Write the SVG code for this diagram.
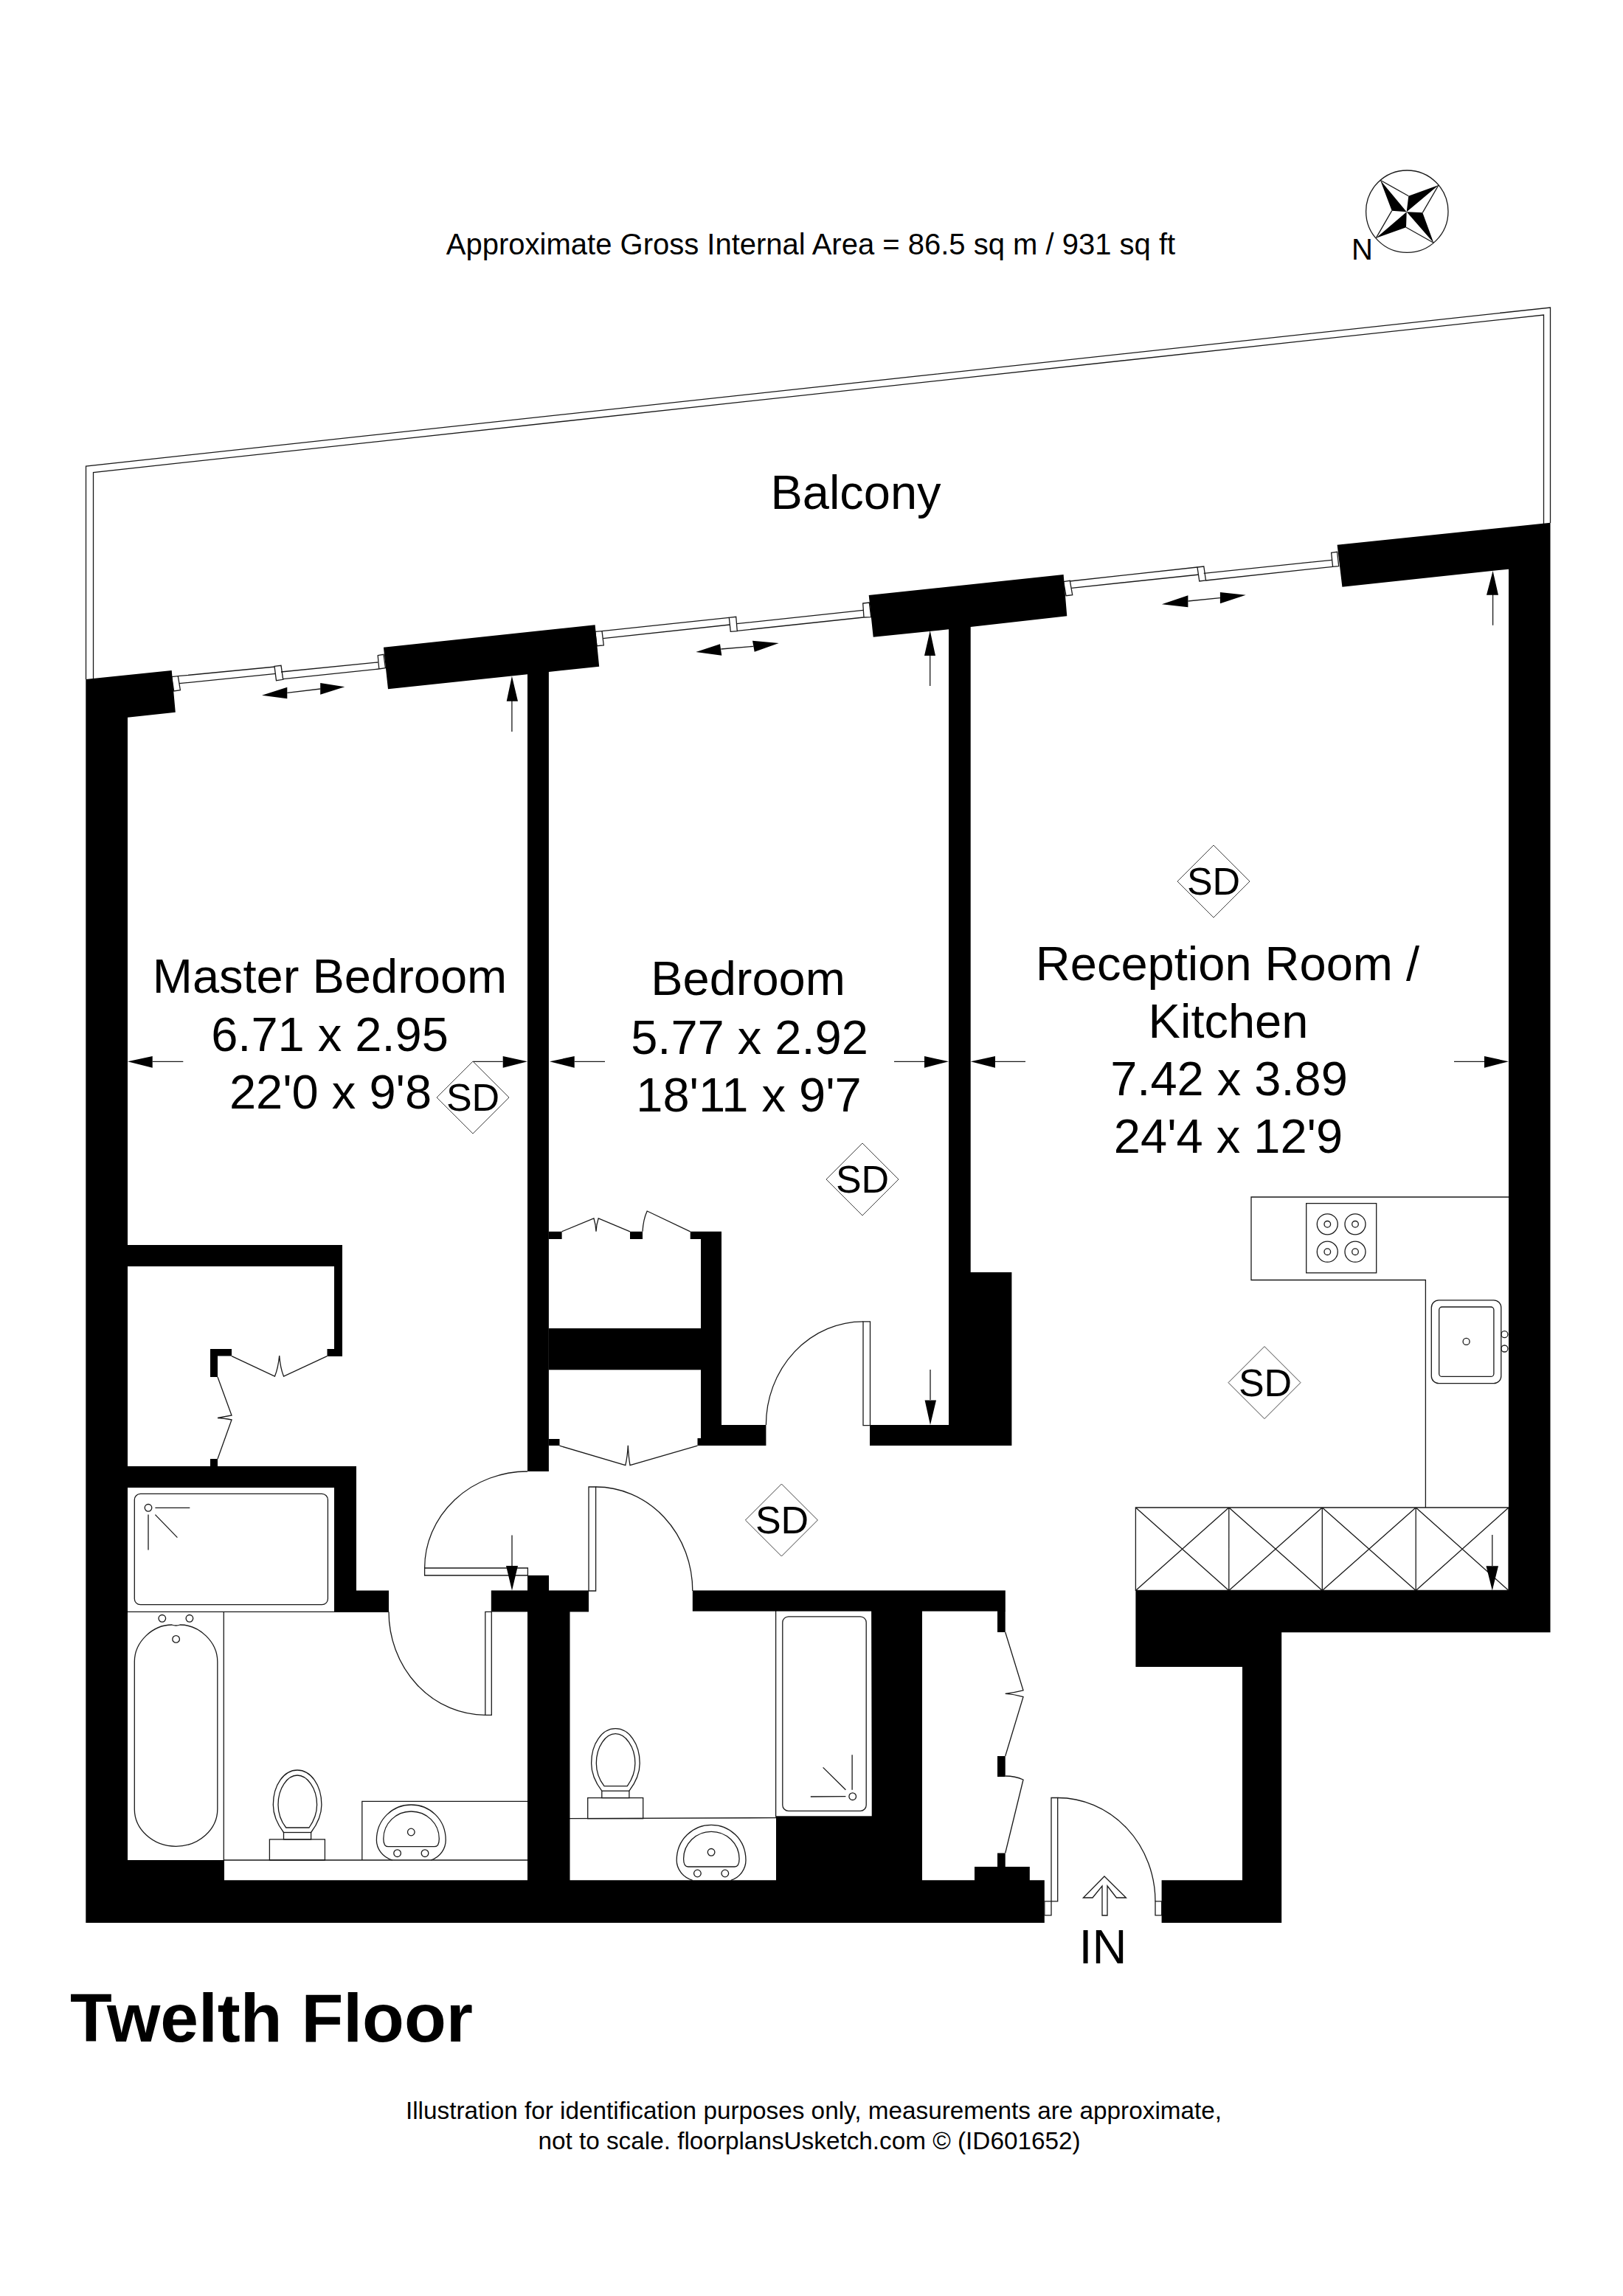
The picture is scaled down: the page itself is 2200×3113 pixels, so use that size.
<svg xmlns="http://www.w3.org/2000/svg" width="2200" height="3113" viewBox="0 0 2200 3113">
<style>
text{font-family:"Liberation Sans",Arial,sans-serif;fill:#000}
.room{font-size:65px;text-anchor:middle}
.sd{font-size:52px;text-anchor:middle}
.note{font-size:33.3px;text-anchor:middle}
.w{fill:#000;stroke:none}
.l{fill:none;stroke:#1a1a1a;stroke-width:1.3}
.f{fill:#fff;stroke:#1a1a1a;stroke-width:1.3}
.thin{fill:#fff;stroke:#444;stroke-width:1}
.a{fill:#000;stroke:none}
</style>
<defs>
<g id="wc">
<rect class="l" x="365.4" y="2493.9" width="75" height="28.1"/>
<rect class="l" x="384.5" y="2484.5" width="37.1" height="9.4"/>
<path class="l" d="M384.5,2484.5C375,2472 370.3,2458 370.3,2447C370.3,2420 385,2400 403,2400C421,2400 435.9,2420 435.9,2447C435.9,2458 431,2472 421.6,2484.5"/>
<path class="l" d="M387.7,2478C380,2468 377,2456 377,2447C377,2424 390,2407 403,2407C416,2407 429.6,2424 429.6,2447C429.6,2456 426,2468 419,2478Z"/>
</g>
<g id="basin">
<path class="l" d="M531.9,2522C518,2518 510.4,2506 510.4,2495C510.4,2466 533,2447 557.3,2447C582,2447 604.2,2466 604.2,2495C604.2,2506 597,2518 584,2522"/>
<path class="l" d="M526,2503.7C521,2503.7 519.8,2499 519.8,2493C519.8,2472 537,2456 557.3,2456C578,2456 595.3,2472 595.3,2493C595.3,2499 594,2503.7 589,2503.7Z"/>
<circle class="l" cx="557.3" cy="2484" r="4.8"/>
<circle class="l" cx="538.6" cy="2512.7" r="4.8"/>
<circle class="l" cx="576" cy="2512.7" r="4.8"/>
</g>
<g id="sdm">
<path class="thin" d="M0,-49L49,0L0,49L-49,0Z"/>
</g>
<g id="burner">
<circle class="l" r="14"/><circle class="l" r="4.3"/>
</g>
</defs>

<g id="balcony">
<path class="l" d="M116.5,921V632L2101.5,417V709"/>
<path class="l" d="M126.5,920V640.5L2092.5,427V710"/>
</g>

<g id="fixtures">
<rect class="l" x="182.3" y="2025.4" width="262.1" height="150.3" rx="8" ry="8"/>
<circle class="l" cx="201" cy="2044.3" r="4.8"/>
<path class="l" d="M210.4,2044.3H257.3M201,2053.6V2101.4M210.4,2053.6L240.4,2084.6"/>
<path class="l" d="M173,2185.3H527M303.3,2185.3V2522H715M490.8,2522V2442.4H715"/>
<path class="l" d="M233,2203C207,2203 182.3,2226 182.3,2253V2453C182.3,2480 207,2503.3 238.5,2503.3C270,2503.3 294.8,2480 294.8,2453V2253C294.8,2226 270,2203 244,2203Q238.5,2205 233,2203Z"/>
<circle class="l" cx="238.6" cy="2222.4" r="4.8"/>
<circle class="l" cx="219.8" cy="2194.3" r="4.8"/>
<circle class="l" cx="256.9" cy="2194.3" r="4.8"/>
<use href="#wc"/>
<use href="#basin"/>
<path class="l" d="M1051.6,2183H1181.7L1182.8,2463H1051.6Z"/>
<path class="l" d="M772,2465.7L1052,2464.6"/>
<rect class="l" x="1060.8" y="2191.8" width="113.4" height="263.6" rx="8" ry="8"/>
<circle class="l" cx="1155.7" cy="2435.7" r="4.8"/>
<path class="l" d="M1098.8,2436L1146.4,2435.7M1155.1,2379.3V2426.8M1115.6,2396.4L1146.4,2426.8"/>
<use href="#wc" transform="translate(431.3,-56.3)"/>
<use href="#basin" transform="translate(406.8,27.3)"/>
<path class="l" d="M2045,1623H1696V1735.5H1932.4V2044"/>
<rect class="l" x="1770.7" y="1631.6" width="95" height="94.2"/>
<use href="#burner" x="1799.3" y="1659.8"/>
<use href="#burner" x="1837" y="1659.8"/>
<use href="#burner" x="1799.3" y="1697.2"/>
<use href="#burner" x="1837" y="1697.2"/>
<rect class="l" x="1940.3" y="1762.9" width="94.5" height="112.8" rx="10" ry="10"/>
<rect class="l" x="1950.7" y="1772" width="74.2" height="94.4" rx="4" ry="4"/>
<circle class="l" cx="1987.6" cy="1818.9" r="4.5"/>
<circle class="l" cx="2039.4" cy="1809.2" r="4.5"/>
<circle class="l" cx="2039.4" cy="1828.5" r="4.5"/>
<path class="l" d="M1539.4,2044H2045V2156.4H1539.4ZM1665.8,2044V2156.4M1792.3,2044V2156.4M1919.2,2044V2156.4M1539.4,2044L1665.8,2156.4M1539.4,2156.4L1665.8,2044M1665.8,2044L1792.3,2156.4M1665.8,2156.4L1792.3,2044M1792.3,2044L1919.2,2156.4M1792.3,2156.4L1919.2,2044M1919.2,2044L2045,2156.4M1919.2,2156.4L2045,2044"/>
</g>

<g id="windows">
<path class="f" d="M232.7,917.7L241.3,916.7L244.4,935.7L235.7,937Z"/>
<path class="l" d="M241.3,916.7L373,904M242.9,926.7L374,913.3"/>
<path class="f" d="M372,903.3L381,902.3L383.7,921.3L374.5,922.7Z"/>
<path class="l" d="M381,911L512.2,898M383.7,920.7L513.3,907"/>
<path class="f" d="M512.2,888.7L520,887.3L522.4,905.7L513.8,907Z"/>
<path class="f" d="M806.7,856.3L816,855.7L818.3,875L809,875.7Z"/>
<path class="l" d="M816,855.7L988.3,837.3M817.3,865.7L989.3,847"/>
<path class="f" d="M988.3,837.3L997.7,836.3L999.3,855.7L990.3,856.3Z"/>
<path class="l" d="M998.7,845.7L1170,827.3M999.3,855.3L1170.7,837"/>
<path class="f" d="M1169.7,818L1178.3,817L1180.7,836.7L1171,837Z"/>
<path class="f" d="M1441.6,788.7L1450.3,787.3L1453.7,806.7L1445,807.7Z"/>
<path class="l" d="M1450.3,788L1623,769M1452.3,797.3L1625.8,779"/>
<path class="f" d="M1623,769L1631.8,768L1634.5,787L1625.8,788Z"/>
<path class="l" d="M1631.8,777.3L1805.3,759.3M1634.5,787L1806.6,768.3"/>
<path class="f" d="M1804.6,749.3L1812.6,748.3L1814.7,767.7L1806.6,768.3Z"/>
</g>

<g id="walls">
<path class="w" d="M116.3,921L232.7,909L237.8,965.7L173,972.7V2522H304V2549.3H1415.8V2607H116.3Z"/>
<path class="w" d="M173,1688H464V1839H443.5V1829H453V1717H173Z"/>
<path class="w" d="M285,1829H314V1838.6H295V1867H285Z"/>
<rect class="w" x="285" y="1978" width="10" height="10"/>
<path class="w" d="M173,1988H483V2156.4H527V2185.4H453V2017H173Z"/>
<path class="w" d="M519.9,877.7L806.6,847.3L812.2,903.7L743.9,911V1995H715V914.3L526,934.3Z"/>
<rect class="w" x="715" y="2136" width="29" height="21"/>
<rect class="w" x="665.8" y="2156.4" width="132.2" height="29"/>
<rect class="w" x="715" y="2185" width="57.5" height="370"/>
<rect class="w" x="744" y="1669.8" width="17.6" height="10.2"/>
<rect class="w" x="854" y="1669.8" width="17" height="10.2"/>
<path class="w" d="M935.7,1669.8H978V1932H1038.4V1960H945.5V1950H950V1680H935.7Z"/>
<rect class="w" x="744" y="1801" width="206" height="56.3"/>
<rect class="w" x="744" y="1951" width="14.5" height="9"/>
<path class="w" d="M1177.7,807L1441.6,779L1446.3,835.3L1315.7,850V1725H1371.4V1960H1179V1932H1286V853.3L1183.7,863.7Z"/>
<rect class="w" x="938.8" y="2156.4" width="424" height="28.2"/>
<rect class="w" x="1352" y="2184" width="10.7" height="29"/>
<rect class="w" x="1352" y="2381" width="10.7" height="28"/>
<rect class="w" x="1352" y="2512.5" width="10.7" height="20"/>
<rect class="w" x="1321" y="2531" width="74.8" height="20"/>
<rect class="w" x="1181.7" y="2184" width="68.3" height="366"/>
<rect class="w" x="1052" y="2463" width="130" height="87"/>
<path class="w" d="M1812.6,738.7L2101.5,708.7V2213.2H1737.2V2607H1574.6V2549.3H1684V2260H1539.4V2156.4H2045V771.7L1819.4,795.7Z"/>
</g>

<g id="doors">
<path class="f" d="M575.6,2126H715.4V2136H575.6Z"/>
<path class="l" d="M715,1995A139.6,131 0 0 0 575.6,2126"/>
<path class="f" d="M798,2016H807.6V2157H798Z"/>
<path class="l" d="M807.6,2016A131,141 0 0 1 938.8,2157"/>
<path class="f" d="M657.8,2185.3H666.3V2325.3H657.8Z"/>
<path class="l" d="M527,2185.3A130.8,140 0 0 0 657.8,2325.3"/>
<path class="f" d="M1170,1791.8H1179.5V1932.7H1170Z"/>
<path class="l" d="M1038.4,1932A131.6,140.2 0 0 1 1170,1791.8"/>
<path class="f" d="M1425,2437.5H1433.7V2577.9H1425Z"/>
<path class="l" d="M1433.7,2437.5A132.3,140.4 0 0 1 1566,2577.9"/>
<path class="f" d="M1415.8,2577.9H1425V2596.8H1415.8Z"/>
<path class="f" d="M1566,2577.9H1574.6V2596.8H1566Z"/>
<path class="l" d="M314,1838.6L372.5,1866Q377,1855 378.7,1838Q380,1855 384.5,1866L443.5,1838.6"/>
<path class="l" d="M295,1867L314,1919Q303,1921 295,1922.5Q303,1923 314,1925L295,1978"/>
<path class="l" d="M761.6,1669.8L804.9,1651.8Q807.5,1660 808,1669.8Q808.5,1660 811.2,1651.8L854,1669.8"/>
<path class="l" d="M871,1669.8Q872,1653 877.2,1642L935.7,1669.8"/>
<path class="l" d="M758.5,1960.2L847.8,1986.6Q850.5,1975 851.3,1959.8Q852,1975 854,1986.6L945.5,1960.2"/>
<path class="l" d="M1362.7,2213L1387,2291.8Q1374,2295 1362.7,2296.4Q1374,2297 1387,2300.7L1362.7,2381"/>
<path class="l" d="M1362.7,2408Q1376,2408 1387,2413L1362.7,2512.5"/>
</g>

<g id="arrows">
<path class="l" d="M389.3,939.3L434.2,934M977.3,880L1021.3,876.3M1610.4,815L1653.9,810.7"/>
<path class="a" d="M355,942.7L389.3,931.7V947.3ZM467.3,931.3L434.2,926V941.7Z"/>
<path class="a" d="M943.3,884L976,873.3L978.3,888.7ZM1055.7,872L1020,868.7L1022.7,883.7Z"/>
<path class="a" d="M1574.9,819.3L1610.4,807.3V823.3ZM1688.7,806.7L1653.9,803V818.3Z"/>
<path class="l" d="M693.9,992V950M1260.7,930V889M2023.6,847.7V806M694,2081.4V2123M1261,1857V1898M2022.8,2081V2123"/>
<path class="a" d="M693.9,916.7L686.7,950.7H702ZM1260.7,855L1253,889H1268ZM2023.6,774L2015,806.7H2031Z"/>
<path class="a" d="M694,2156.4L686,2123H702ZM1261,1932L1253.6,1898.6H1269ZM2022.8,2156.4L2014.5,2123.2H2031Z"/>
<path class="l" d="M206.7,1439.3H248.3M641,1439.3H681.7M778.7,1439.3H820M1212,1439.3H1253M1349,1439.3H1390M1971,1439.3H2012"/>
<path class="a" d="M173,1439.3L206.7,1432V1447.7ZM715,1439.3L681.7,1432V1447.7ZM745,1439.3L778.7,1432V1447.7ZM1286,1439.3L1253,1432V1447.7ZM1315.7,1439.3L1349,1432V1447.7ZM2045,1439.3L2012,1432V1447.7Z"/>
<path class="f" d="M1497,2544L1526.4,2573H1513.4L1501,2557V2597H1494V2557L1481,2573H1468.4Z"/>
</g>

<g id="compass">
<circle class="l" cx="1907.3" cy="286.7" r="55.7"/>
<path class="l" d="M1871,244.3L1909.3,265.7M1950,251L1928.3,288.3M1943.3,329.3L1906,308.3M1865.3,322.7L1886.7,285.7"/>
<path class="a" d="M1871,244.3L1886.7,285.7L1906.7,287.3ZM1950,251L1909.3,265.7L1906.7,287.3ZM1943.3,329.3L1928.3,288.3L1906.7,287.3ZM1865.3,322.7L1906,308.3L1906.7,287.3Z"/>
<text x="1832" y="351.7" font-size="40">N</text>
</g>

<g id="sd-marks">
<use href="#sdm" x="641" y="1488"/><text class="sd" x="641" y="1505.7">SD</text>
<use href="#sdm" x="1645" y="1195"/><text class="sd" x="1645" y="1213.3">SD</text>
<use href="#sdm" x="1169" y="1599"/><text class="sd" x="1169" y="1617">SD</text>
<use href="#sdm" x="1059.4" y="2061"/><text class="sd" x="1060" y="2078.5">SD</text>
<use href="#sdm" x="1714" y="1874.6"/><text class="sd" x="1715" y="1892.5">SD</text>
</g>

<g id="labels">
<text x="1099" y="345" font-size="40" text-anchor="middle">Approximate Gross Internal Area = 86.5 sq m / 931 sq ft</text>
<text class="room" x="1160" y="690">Balcony</text>
<text class="room" x="447" y="1345.5">Master Bedroom</text>
<text class="room" x="447" y="1425">6.71 x 2.95</text>
<text class="room" x="448" y="1502.7">22'0 x 9'8</text>
<text class="room" x="1014" y="1349.3">Bedroom</text>
<text class="room" x="1016" y="1429.3">5.77 x 2.92</text>
<text class="room" x="1015" y="1507.3">18'11 x 9'7</text>
<text class="room" x="1664" y="1329">Reception Room /</text>
<text class="room" x="1665" y="1406.7">Kitchen</text>
<text class="room" x="1666" y="1485">7.42 x 3.89</text>
<text class="room" x="1665" y="1562.7">24'4 x 12'9</text>
<text class="room" x="1495" y="2661.8">IN</text>
<text x="95" y="2768" font-size="93" font-weight="bold">Twelth Floor</text>
<text class="note" x="1103" y="2873">Illustration for identification purposes only, measurements are approximate,</text>
<text class="note" x="1097" y="2914">not to scale. floorplansUsketch.com © (ID601652)</text>
</g>
</svg>
